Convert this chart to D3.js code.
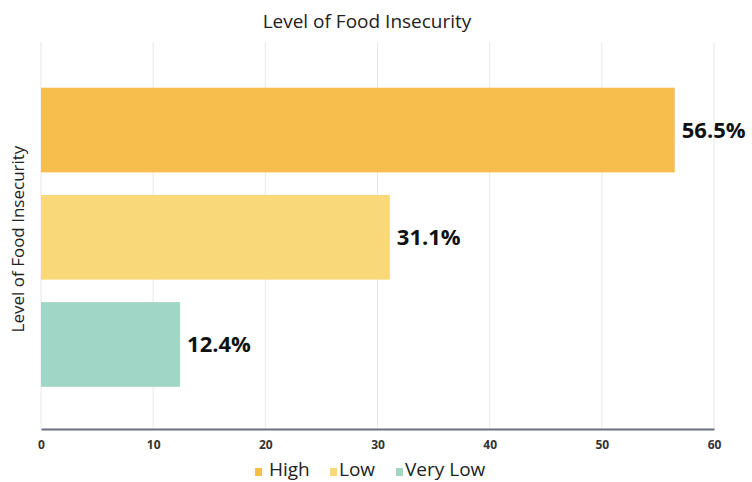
<!DOCTYPE html>
<html>
<head>
<meta charset="utf-8">
<script src="https://cdn.jsdelivr.net/npm/d3@7"></script>
<style>
  body { margin: 0; background: #fff; }
  svg { display: block; font-family: "Open Sans", Lato, sans-serif; }
</style>
</head>
<body>
<svg width="752" height="482"></svg>
<script>
var categories = ['High', 'Low', 'Very Low'];
var values = [56.5, 31.1, 12.4];
var colors = ['#F7BE4E', '#F9D87A', '#A0D6C6'];
var xTicks = [0, 10, 20, 30, 40, 50, 60];

var data = categories.map(function(c, i) {
    return { name: c, value: values[i], color: colors[i] };
});

var svg = d3.select('svg');
var plotLeft = 41, plotRight = 714, plotTop = 42, plotBottom = 429;

var x = d3.scaleLinear()
            .domain([0, 60])
            .range([plotLeft, plotRight]);

var y = d3.scaleBand()
            .domain(categories)
            .range([plotTop, plotBottom])
            .paddingInner(0.21)
            .paddingOuter(0.41)
            .align(0.52);

// grid
svg.append('g')
    .selectAll('line')
    .data(xTicks)
    .enter()
    .append('line')
        .attr('x1', d => x(d))
        .attr('x2', d => x(d))
        .attr('y1', plotTop)
        .attr('y2', plotBottom)
        .attr('stroke', '#e8e8e8')
        .attr('stroke-width', 1);

// bars
svg.append('g')
    .selectAll('rect')
    .data(data)
    .enter()
    .append('rect')
        .attr('x', x(0))
        .attr('y', d => y(d.name))
        .attr('width', d => x(d.value) - x(0))
        .attr('height', y.bandwidth())
        .attr('fill', d => d.color);

// value labels
svg.append('g')
    .selectAll('text')
    .data(data)
    .enter()
    .append('text')
        .attr('x', d => x(d.value) + 7)
        .attr('y', d => y(d.name) + y.bandwidth() / 2)
        .attr('dy', '0.36em')
        .attr('font-size', 22)
        .attr('font-weight', 'bold')
        .attr('fill', '#111')
        .text(d => d.value.toFixed(1) + '%');

// x axis
var xAxis = svg.append('g')
    .attr('transform', 'translate(0,' + plotBottom + ')')
    .call(d3.axisBottom(x).tickValues(xTicks).tickSize(0).tickPadding(11));
xAxis.select('.domain')
    .attr('stroke', '#6c7080')
    .attr('stroke-width', 2);
xAxis.selectAll('text')
    .attr('font-size', 12)
    .attr('font-weight', 'bold')
    .attr('fill', '#333')
    .attr('font-family', '"Open Sans", sans-serif');

// title
svg.append('text')
    .attr('x', 367)
    .attr('y', 28)
    .attr('text-anchor', 'middle')
    .attr('font-size', 19)
    .attr('fill', '#222')
    .text('Level of Food Insecurity');

// y axis title
svg.append('text')
    .attr('transform', 'translate(24,239) rotate(-90)')
    .attr('text-anchor', 'middle')
    .attr('font-size', 17)
    .attr('fill', '#222')
    .text('Level of Food Insecurity');

// legend
var legendX = [255, 330, 396];
var legend = svg.append('g')
    .selectAll('g')
    .data(data)
    .enter()
    .append('g')
        .attr('transform', (d, i) => 'translate(' + legendX[i] + ',476)');
legend.append('rect')
    .attr('x', 0)
    .attr('y', -8)
    .attr('width', 7)
    .attr('height', 8)
    .attr('fill', d => d.color);
legend.append('text')
    .attr('x', (d, i) => i === 0 ? 14 : 9)
    .attr('y', 0)
    .attr('font-size', 19)
    .attr('fill', '#222')
    .text(d => d.name);
</script>
</body>
</html>
